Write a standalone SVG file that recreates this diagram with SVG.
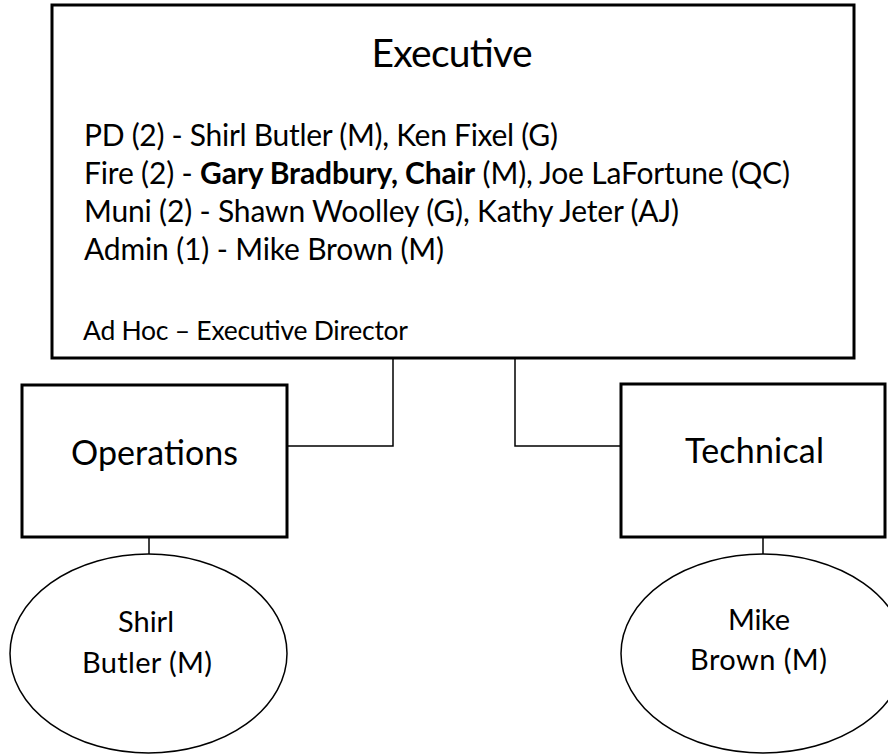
<svg xmlns="http://www.w3.org/2000/svg" width="888" height="754" viewBox="0 0 888 754">
<style>
text{font-family:Lato,"Open Sans","Liberation Sans",sans-serif;fill:#000}
.box{fill:#fff;stroke:#000;stroke-width:3}
.ell{fill:#fff;stroke:#000;stroke-width:1.5}
.con{fill:none;stroke:#000;stroke-width:1.5}
.b{font-weight:bold}
</style>
<rect width="888" height="754" fill="#fff"/>
<g id="connectors">
<polyline class="con" points="393,358 393,446 287,446"/>
<polyline class="con" points="515,358 515,446 621,446"/>
<line class="con" x1="149" y1="537" x2="149" y2="554"/>
<line class="con" x1="763" y1="537" x2="763" y2="554"/>
</g>
<g id="executive">
<rect class="box" x="52" y="5" width="802" height="353"/>
<text x="452" y="67" font-size="39" text-anchor="middle" textLength="161">Executive</text>
<text x="84" y="146" font-size="30" textLength="474">PD (2) - Shirl Butler (M), Ken Fixel (G)</text>
<text x="84" y="184" font-size="30" textLength="706">Fire (2) - <tspan class="b">Gary Bradbury, Chair</tspan> (M), Joe LaFortune (QC)</text>
<text x="84" y="222" font-size="30" textLength="595">Muni (2) - Shawn Woolley (G), Kathy Jeter (AJ)</text>
<text x="84" y="260" font-size="30" textLength="360">Admin (1) - Mike Brown (M)</text>
<text x="83" y="340" font-size="26.5" textLength="325">Ad Hoc – Executive Director</text>
</g>
<g id="operations">
<rect class="box" x="22" y="385" width="265" height="152"/>
<text x="154.5" y="465" font-size="34" text-anchor="middle" textLength="167">Operations</text>
</g>
<g id="technical">
<rect class="box" x="621" y="384" width="264" height="153"/>
<text x="754.5" y="463" font-size="34" text-anchor="middle" textLength="139">Technical</text>
</g>
<g id="shirl">
<ellipse class="ell" cx="148.5" cy="653.5" rx="138.5" ry="99.5"/>
<text x="146" y="632" font-size="29" text-anchor="middle" textLength="56">Shirl</text>
<text x="147" y="673" font-size="29" text-anchor="middle" textLength="130">Butler (M)</text>
</g>
<g id="mike">
<ellipse class="ell" cx="763" cy="653.5" rx="142" ry="99.5"/>
<text x="759" y="630" font-size="29" text-anchor="middle" textLength="62">Mike</text>
<text x="758.5" y="670" font-size="29" text-anchor="middle" textLength="137">Brown (M)</text>
</g>
</svg>
